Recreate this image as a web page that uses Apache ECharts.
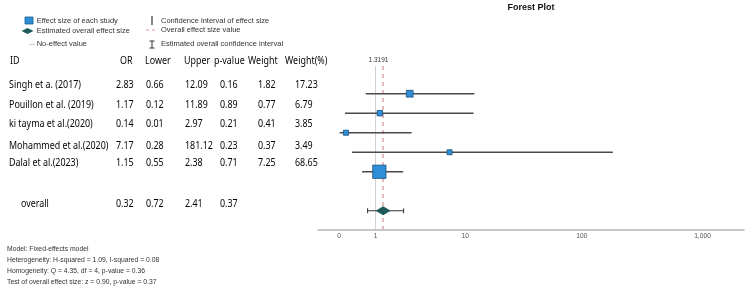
<!DOCTYPE html>
<html>
<head>
<meta charset="utf-8">
<script src="https://cdn.jsdelivr.net/npm/echarts@6/dist/echarts.min.js"></script>
<style>
  html, body { margin: 0; padding: 0; background: #fff; }
  #chart { width: 750px; height: 289px; }
</style>
</head>
<body>
<div id="chart"></div>
<script>
// study data
const studies = ['Singh et a. (2017)', 'Pouillon et al. (2019)', 'ki tayma et al.(2020)', 'Mohammed et al.(2020)', 'Dalal et al.(2023)'];
const orVals = [2.83, 1.17, 0.14, 7.17, 1.15];
const lowerVals = [0.66, 0.12, 0.01, 0.28, 0.55];
const upperVals = [12.09, 11.89, 2.97, 181.12, 2.38];
const pVals = ['0.16', '0.89', '0.21', '0.23', '0.71'];
const weightVals = ['1.82', '0.77', '0.41', '0.37', '7.25'];
const weightPct = [17.23, 6.79, 3.85, 3.49, 68.65];

// overall row
const overallRow = ['0.32', '0.72', '2.41', '0.37'];
const overallEffect = 1.31;
const overallLower = 0.72;
const overallUpper = 2.41;
const noEffect = 1;

const headers = ['ID', 'OR', 'Lower', 'Upper', 'p-value', 'Weight', 'Weight(%)'];
const tickValues = [0, 1, 10, 100, 1000];
const footerLines = [
  'Model: Fixed-effects model',
  'Heterogeneity: H-squared = 1.09, I-squared = 0.08',
  'Homogeneity: Q = 4.35, df = 4, p-value = 0.36',
  'Test of overall effect size: z = 0.90, p-value = 0.37'
];

// axis is log10(x + 1)
const t = v => Math.log10(v + 1);
const OVERALL_ROW = 6;

const chart = echarts.init(document.getElementById('chart'));

// layout of the table
const headerX = [10, 120, 145, 184, 214, 248, 285];
const valueX = [9, 116, 146, 185, 220, 258, 295];
const rowY = [85, 105, 124, 146, 163];
const tableFont = '11px "Noto Sans"';

const txt = (x, y, s, font, color, align, sx) => ({
  type: 'text', x, y, silent: true, scaleX: sx || 1,
  style: { text: s, font, fill: color, align: align || 'left', verticalAlign: 'middle', textAlign: align || 'left', textVerticalAlign: 'middle' }
});
const cell = (x, y, s) => txt(x, y, s, tableFont, '#050505', 'left', 0.81);

const graphics = [];
graphics.push(txt(531, 7.5, 'Forest Plot', 'bold 9px "Liberation Sans"', '#111', 'center'));

// legend
const legFont = '7.5px "Liberation Sans"';
graphics.push({ type: 'rect', shape: { x: 25, y: 17, width: 8, height: 7 }, style: { fill: '#2e8fd8', stroke: '#1a5a8a', lineWidth: 0.8 } });
graphics.push({ type: 'polygon', shape: { points: [[21.5, 31], [27.5, 28], [33.5, 31], [27.5, 34]] }, style: { fill: '#1e5b5a' } });
graphics.push({ type: 'line', shape: { x1: 29, y1: 44.3, x2: 35, y2: 44.3 }, style: { stroke: '#c8c8c8', lineWidth: 1 } });
graphics.push({ type: 'line', shape: { x1: 152, y1: 16, x2: 152, y2: 25 }, style: { stroke: '#333', lineWidth: 1.2 } });
graphics.push({ type: 'line', shape: { x1: 146, y1: 30, x2: 158, y2: 30 }, style: { stroke: '#d9a0a0', lineWidth: 1, lineDash: [3, 3] } });
graphics.push({ type: 'line', shape: { x1: 152, y1: 41, x2: 152, y2: 48 }, style: { stroke: '#333', lineWidth: 1 } });
graphics.push({ type: 'line', shape: { x1: 149.5, y1: 41, x2: 154.5, y2: 41 }, style: { stroke: '#333', lineWidth: 1 } });
graphics.push({ type: 'line', shape: { x1: 149.5, y1: 48, x2: 154.5, y2: 48 }, style: { stroke: '#333', lineWidth: 1 } });
graphics.push(txt(36.7, 20.7, 'Effect size of each study', legFont, '#333'));
graphics.push(txt(36.7, 31, 'Estimated overall effect size', legFont, '#333'));
graphics.push(txt(36.7, 44.3, 'No-effect value', legFont, '#333'));
graphics.push(txt(161, 20.7, 'Confidence interval of effect size', legFont, '#333'));
graphics.push(txt(161, 30, 'Overall effect size value', legFont, '#333'));
graphics.push(txt(161, 44.3, 'Estimated overall confidence interval', legFont, '#333'));

// table
headers.forEach((h, j) => graphics.push(cell(headerX[j], 61, h)));
studies.forEach((s, i) => {
  const cells = [s, orVals[i].toFixed(2), lowerVals[i].toFixed(2), upperVals[i].toFixed(2), pVals[i], weightVals[i], weightPct[i].toFixed(2)];
  cells.forEach((c, j) => graphics.push(cell(valueX[j], rowY[i], c)));
});
graphics.push(cell(21, 204, 'overall'));
overallRow.forEach((c, j) => graphics.push(cell(valueX[j + 1], 204, c)));

// footer
footerLines.forEach((s, i) => graphics.push(txt(7, 249 + i * 10.9, s, '6.8px "Liberation Sans"', '#333')));

// label over the reference lines
graphics.push(txt(378.5, 60.7, '1.3191', '6.5px "Liberation Sans"', '#333', 'center'));

const fmtTick = v => {
  const n = Math.round(Math.pow(10, v) - 1);
  return n.toLocaleString('en-US');
};

const option = {
  animation: false,
  grid: { left: 318, right: 6, top: 66, bottom: 59.7 },
  xAxis: {
    type: 'value',
    min: -0.174,
    max: 3.343,
    splitLine: { show: false },
    axisTick: { show: false },
    axisLine: { onZero: false, lineStyle: { color: '#b4b4b4', width: 1.5 } },
    axisLabel: {
      customValues: tickValues.map(t),
      formatter: fmtTick,
      fontSize: 6.7,
      color: '#555',
      fontFamily: 'Liberation Sans',
      margin: 3
    }
  },
  yAxis: {
    type: 'value',
    inverse: true,
    min: -1.42,
    max: 6.95,
    show: false
  },
  graphic: graphics,
  series: [
    {
      // reference lines
      type: 'line',
      data: [],
      z: 1,
      markLine: {
        silent: true,
        z: 1,
        symbol: 'none',
        label: { show: false },
        data: [
          { xAxis: t(noEffect), lineStyle: { color: '#d2d2d2', width: 1, type: 'solid' } },
          { xAxis: t(overallEffect), lineStyle: { color: '#d8a4a4', width: 1.5, type: [4, 4] } }
        ]
      }
    },
    {
      // study confidence intervals
      type: 'custom',
      z: 2,
      data: studies.map((s, i) => [t(lowerVals[i]), t(upperVals[i]), i]),
      renderItem: (params, api) => {
        const a = api.coord([api.value(0), api.value(2)]);
        const b = api.coord([api.value(1), api.value(2)]);
        return { type: 'line', shape: { x1: a[0], y1: a[1], x2: b[0], y2: b[1] }, style: { stroke: '#4a4a4a', lineWidth: 1.5 } };
      }
    },
    {
      // study effect sizes
      type: 'scatter',
      z: 3,
      symbol: 'rect',
      data: studies.map((s, i) => [t(orVals[i]), i, weightPct[i]]),
      symbolSize: v => 4.6 + 0.127 * v[2],
      itemStyle: { color: '#2e8fd8', borderColor: '#1c4f7c', borderWidth: 0.8, opacity: 1 }
    },
    {
      // overall confidence interval
      type: 'custom',
      z: 2,
      data: [[t(overallLower), t(overallUpper), OVERALL_ROW]],
      renderItem: (params, api) => {
        const a = api.coord([api.value(0), api.value(2)]);
        const b = api.coord([api.value(1), api.value(2)]);
        const h = 2.5;
        return {
          type: 'group',
          children: [
            { type: 'line', shape: { x1: a[0], y1: a[1], x2: b[0], y2: b[1] }, style: { stroke: '#333', lineWidth: 1 } },
            { type: 'line', shape: { x1: a[0], y1: a[1] - h, x2: a[0], y2: a[1] + h }, style: { stroke: '#333', lineWidth: 1 } },
            { type: 'line', shape: { x1: b[0], y1: b[1] - h, x2: b[0], y2: b[1] + h }, style: { stroke: '#333', lineWidth: 1 } }
          ]
        };
      }
    },
    {
      // overall effect
      type: 'scatter',
      z: 3,
      symbol: 'diamond',
      symbolSize: [15, 9],
      data: [[t(overallEffect), OVERALL_ROW]],
      itemStyle: { color: '#1e5b5a', opacity: 1 }
    }
  ]
};

chart.setOption(option);
</script>
</body>
</html>
